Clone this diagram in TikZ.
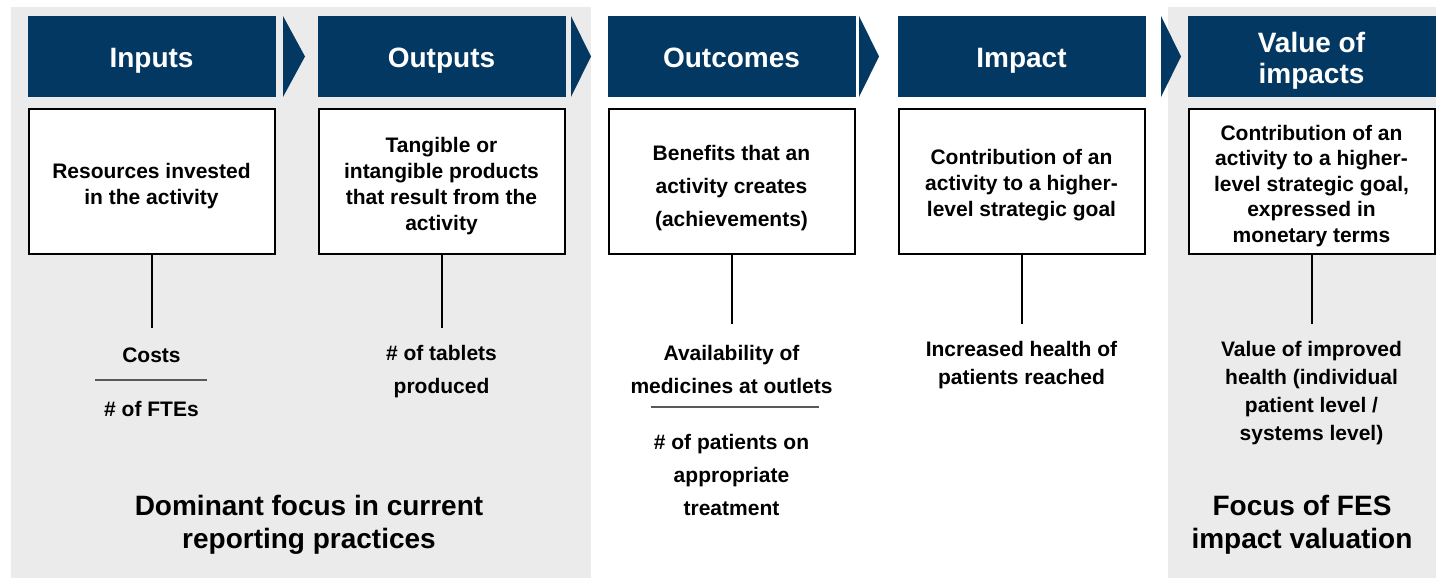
\documentclass[tikz,border=0pt]{standalone}
\usepackage{fontspec}
\setmainfont{Liberation Sans}
\definecolor{navy}{HTML}{033863}
\definecolor{panelgray}{HTML}{EBEBEB}
\definecolor{rulegray}{HTML}{595959}
% invisible strut that lowers a centred block of lines
\newcommand{\lowerby}[1]{\rule{0pt}{#1}}

\begin{document}
\begin{tikzpicture}[x=1pt,y=-1pt,
  header/.style={fill=navy, text=white, minimum width=248pt, minimum height=81pt,
    inner sep=0pt, align=center, font=\fontsize{28}{31}\selectfont\bfseries},
  oneline/.style={text height=21pt, text depth=0pt},
  descbox/.style={draw=black, line width=2pt, fill=white, minimum width=246pt,
    minimum height=145pt, inner sep=0pt, align=center,
    font=\fontsize{21}{26}\selectfont\bfseries},
  metric/.style={anchor=north, inner sep=0pt, align=center,
    font=\fontsize{21}{28}\selectfont\bfseries},
  wide/.style={font=\fontsize{21}{33}\selectfont\bfseries},
  focus/.style={anchor=north, inner sep=0pt, align=center,
    font=\fontsize{28}{33}\selectfont\bfseries},
  chevron/.style={fill=navy},
  stem/.style={draw=black, line width=2pt},
  divider/.style={draw=rulegray, line width=2.5pt}]

\useasboundingbox (0,0) rectangle (1436,578);

% shaded focus panels
\fill[panelgray] (11,7) rectangle (591,578);
\fill[panelgray] (1168,7) rectangle (1436,578);

% stage headers
\node[header, oneline] (hin)  at (151.5,56.5) {Inputs};
\node[header, oneline] (hout) at (441.5,56.5) {Outputs};
\node[header, oneline] (hoc)  at (731.5,56.5) {Outcomes};
\node[header, oneline] (him)  at (1021.5,56.5) {Impact};
\node[header] (hval) at (1311.5,56.5) {\lowerby{29pt}Value of\\impacts};

% chevrons between stages
\fill[chevron] (283,16) -- (305,56.5) -- (283,97) -- cycle;
\fill[chevron] (571,16) -- (591,56.5) -- (571,97) -- cycle;
\fill[chevron] (859,16) -- (879,56.5) -- (859,97) -- cycle;
\fill[chevron] (1161,16) -- (1181,56.5) -- (1161,97) -- cycle;

% definitions
\node[descbox] (din)  at (151.5,181.5)
  {\lowerby{23.5pt}Resources invested\\in the activity};
\node[descbox] (dout) at (441.5,181.5)
  {\lowerby{23.5pt}Tangible or\\intangible products\\that result from the\\activity};
\node[descbox, wide] (doc) at (731.5,181.5)
  {\lowerby{27.5pt}Benefits that an\\activity creates\\(achievements)};
\node[descbox] (dim)  at (1021.5,181.5)
  {\lowerby{22.5pt}Contribution of an\\activity to a higher-\\level strategic goal};
\node[descbox, font=\fontsize{21}{25.5}\selectfont\bfseries] (dval) at (1311.5,181.5)
  {\lowerby{23.5pt}Contribution of an\\activity to a higher-\\level strategic goal,\\expressed in\\monetary terms};

% stem ends
\coordinate (ein)  at (151.5,328);
\coordinate (eout) at (441.5,328);
\coordinate (eoc)  at (731.5,324);
\coordinate (eim)  at (1021.5,324);
\coordinate (eval) at (1311.5,324);

\draw[stem] (din.south)  -- (ein);
\draw[stem] (dout.south) -- (eout);
\draw[stem] (doc.south)  -- (eoc);
\draw[stem] (dim.south)  -- (eim);
\draw[stem] (dval.south) -- (eval);

% example indicators
\node[metric] (costs) at (151.5,347.5) {Costs};
\node[metric] (ftes)  at (151.5,401.5) {\# of FTEs};
\draw[divider] (95,380) -- (207,380);

\node[metric, wide] (tabs) at (441.5,345.5) {\# of tablets\\produced};

\node[metric, wide] (avail) at (731.5,345.5) {Availability of\\medicines at outlets};
\draw[divider] (651,407) -- (819,407);
\node[metric, wide] (pats) at (731.5,434.5) {\# of patients on\\appropriate\\treatment};

\node[metric] (health) at (1021.5,341.5) {Increased health of\\patients reached};
\node[metric] (valh) at (1311.5,341.5)
  {Value of improved\\health (individual\\patient level /\\systems level)};

% panel captions
\node[focus] (fdom) at (309,495) {Dominant focus in current\\reporting practices};
\node[focus] (ffes) at (1302,495) {Focus of FES\\impact valuation};

\end{tikzpicture}
\end{document}
